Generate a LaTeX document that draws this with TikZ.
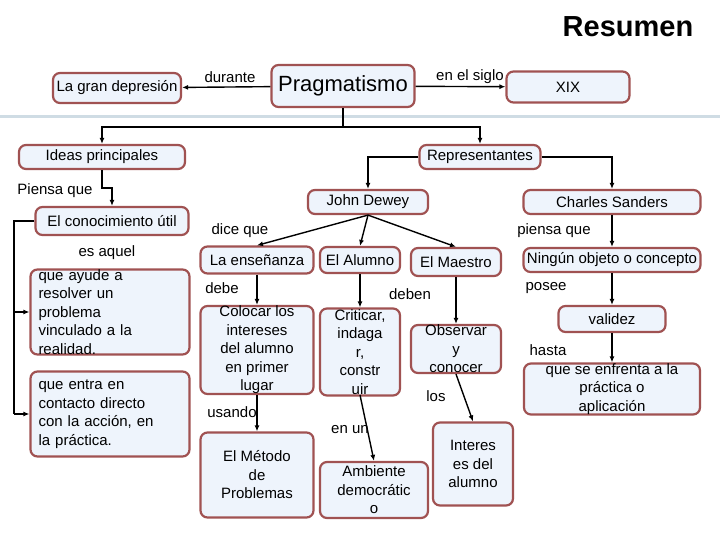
\documentclass[tikz,border=0pt]{standalone}
\usepackage{fontspec}
\setmainfont{Liberation Sans}
\usetikzlibrary{arrows.meta}
\definecolor{boxfill}{HTML}{EEF4FC}
\definecolor{boxline}{HTML}{A05252}
\definecolor{rule}{HTML}{CFDCE4}
\tikzset{
	concept/.style={draw=boxline,fill=boxfill,line width=2.2pt,rounded corners=7pt,inner sep=0pt,align=center,font=\fontsize{15}{18.5}\selectfont},
	link/.style={font=\fontsize{15}{18}\selectfont},
	arr/.style={-{Latex[length=6pt,width=5pt]},line width=1.4pt},
}
\begin{document}
\begin{tikzpicture}[x=1pt,y=-1pt]
	\useasboundingbox (0,0) rectangle (720,540);
	
	%Title and separator
	\node (title) at (628,27) {\fontsize{29}{32}\selectfont\bfseries Resumen};
	\draw[rule,line width=3pt] (0,117)--(720,117);
	
	%Top row
	\node[concept,minimum width=128,minimum height=30] (lagran) at (117,88) {La gran depresión};
	\node[concept,minimum width=143,minimum height=42,font=\fontsize{22}{24}\selectfont] (prag) at (343,86) {Pragmatismo};
	\node[concept,minimum width=123,minimum height=31] (xix) at (568,87) {XIX};
	\draw[arr] (prag)--(lagran);
	\draw[arr] (prag)--(xix);
	\node[link] (l1) at (230,77) {durante};
	\node[link] (l2) at (470,77) {en el siglo};
	
	%Second row
	\node[concept,minimum width=166,minimum height=24] (ideas) at (102,157) {Ideas principales};
	\node[concept,minimum width=121,minimum height=24] (repr) at (480,157) {Representantes};
	\coordinate (split) at (343,127);
	\draw[line width=1.4pt] (prag.south)--(split);
	\draw[arr] (split)-|(ideas.north);
	\draw[arr] (split)-|(repr.north);
	
	%Left branch
	\node[concept,minimum width=153,minimum height=28] (conoc) at (112,221) {El conocimiento útil};
	\node[concept,minimum width=159,minimum height=85,align=left,text width=143,inner xsep=8pt] (ayude) at (110,312) {que ayude a\\resolver un\\problema\\vinculado a la\\realidad.};
	\node[concept,minimum width=159,minimum height=85,align=left,text width=143,inner xsep=8pt] (entra) at (110,414) {que entra en\\contacto directo\\con la acción, en\\la práctica.};
	\draw[arr] (ideas.south)--++(0,18)-|(conoc.north);
	\coordinate (rail) at (14,221);
	\draw[line width=1.4pt] (conoc.west)--(rail)--(14,414);
	\draw[arr] (14,312)--(ayude.west);
	\draw[arr] (14,414)--(entra.west);
	\node[link] (l3) at (55,191) {Piensa que};
	\node[link] (l4) at (107,253) {es aquel};
	
	%Representantes
	\node[concept,minimum width=120,minimum height=24] (dewey) at (368,202) {John Dewey};
	\node[concept,minimum width=177,minimum height=24] (charles) at (612,202) {Charles Sanders};
	\draw[arr] (repr.west)-|(dewey.north);
	\draw[arr] (repr.east)-|(charles.north);
	
	%John Dewey
	\node[concept,minimum width=113,minimum height=27] (ensen) at (257,260) {La enseñanza};
	\node[concept,minimum width=80,minimum height=26] (alumno) at (360,260) {El Alumno};
	\node[concept,minimum width=90,minimum height=28] (maestro) at (456,262) {El Maestro};
	\draw[arr] (dewey.south)--(ensen.north);
	\draw[arr] (dewey.south)--(alumno.north);
	\draw[arr] (dewey.south)--(maestro.north);
	\node[link] (l5) at (240,231) {dice que};
	
	\node[concept,minimum width=113,minimum height=87] (colocar) at (257,350) {Colocar los\\intereses\\del alumno\\en primer\\lugar};
	\node[concept,minimum width=113,minimum height=85] (metodo) at (257,475) {El Método\\de\\Problemas};
	\draw[arr] (ensen)--(colocar);
	\draw[arr] (colocar)--(metodo);
	\node[link] (l6) at (222,288) {debe};
	\node[link] (l7) at (232,412) {usando};
	
	\node[concept,minimum width=80,minimum height=87] (critic) at (360,352) {Criticar,\\indaga\\r,\\constr\\uir};
	\node[concept,minimum width=108,minimum height=56] (ambiente) at (374,490) {Ambiente\\democrátic\\o};
	\draw[arr] (alumno)--(critic);
	\draw[arr] (360,395)--(ambiente.north);
	\node[link] (l8) at (410,294) {deben};
	\node[link] (l9) at (350,430) {en un};
	
	\node[concept,minimum width=90,minimum height=48] (observ) at (456,349) {Observar\\y\\conocer};
	\node[concept,minimum width=80,minimum height=83] (interes) at (473,464) {Interes\\es del\\alumno};
	\draw[arr] (maestro)--(observ);
	\draw[arr] (observ.south)--(interes.north);
	\node[link] (l10) at (436,396) {los};
	
	%Charles Sanders
	\node[concept,minimum width=177,minimum height=24] (ningun) at (612,260) {Ningún objeto o concepto};
	\node[concept,minimum width=107,minimum height=26] (validez) at (612,319) {validez};
	\node[concept,minimum width=176,minimum height=46] (enfrenta) at (612,389) {que se enfrenta a la\\práctica o\\aplicación};
	\draw[arr] (charles)--(ningun);
	\draw[arr] (ningun)--(validez);
	\draw[arr] (validez)--(enfrenta);
	\node[link] (l11) at (554,231) {piensa que};
	\node[link] (l12) at (546,288) {posee};
	\node[link] (l13) at (548,350) {hasta};
	
\end{tikzpicture}
\end{document}
